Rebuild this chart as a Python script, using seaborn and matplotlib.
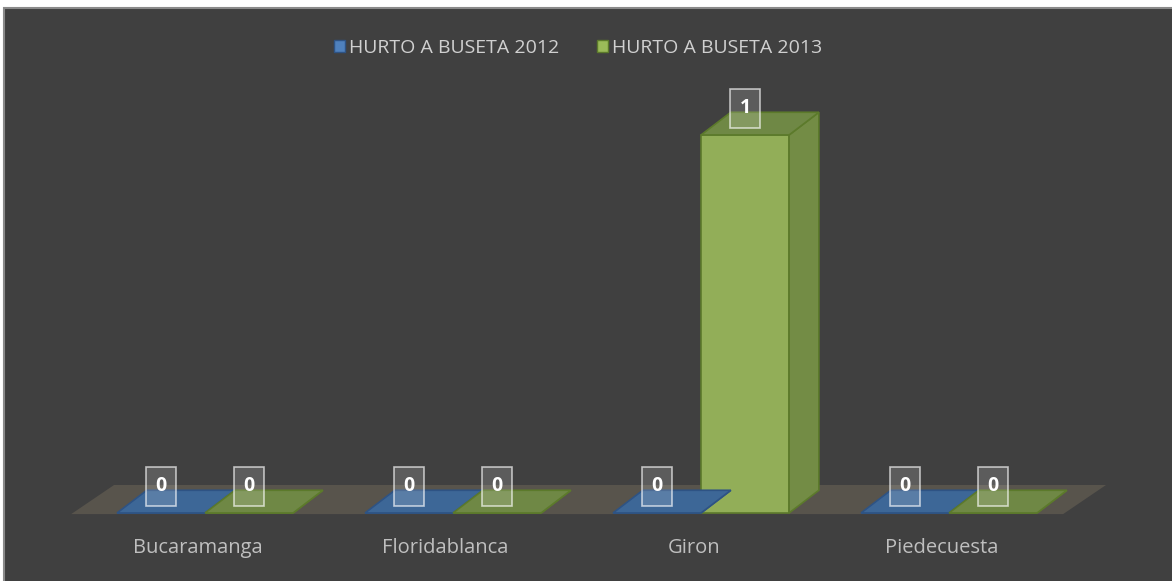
import numpy as np
import pandas as pd
import seaborn as sns
import matplotlib.pyplot as plt
from matplotlib.patches import Polygon, Patch, Rectangle

municipios = ["Bucaramanga", "Floridablanca", "Giron", "Piedecuesta"]
hurto_2012 = [0, 0, 0, 0]
hurto_2013 = [0, 0, 1, 0]
series = ["HURTO A BUSETA 2012", "HURTO A BUSETA 2013"]

df = pd.DataFrame({
    "municipio": municipios * 2,
    "casos": hurto_2012 + hurto_2013,
    "serie": [series[0]] * 4 + [series[1]] * 4,
})

bg = "#404040"
front = ["#4a78ae", "#92ae58"]
top = ["#3d6797", "#6f8845"]
side = ["#3a5f8a", "#738c45"]
edge = ["#2e5384", "#5c7a2b"]
legend_col = ["#4f81bd", "#9bbb59"]

sns.set_style("dark")
plt.rcParams["font.family"] = ["Open Sans", "DejaVu Sans"]

fig = plt.figure(figsize=(11.72, 5.81), dpi=100)
fig.patch.set_facecolor("white")
ax = fig.add_axes([0, 0, 1, 1])
ax.set_facecolor("none")
fig.patches.append(Rectangle((4 / 1172, -0.05), 1.1, 1.05 - 8 / 581, transform=fig.transFigure,
                             facecolor=bg, edgecolor="#8a8a8a", lw=1.5, zorder=-10))

sns.barplot(data=df, x="municipio", y="casos", hue="serie", palette=front,
            width=0.71, ax=ax, legend=False, zorder=3, saturation=1)

ax.set_xlim(-0.827, 3.899)
ax.set_ylim(-0.18, 1.357)
for s in ax.spines.values():
    s.set_visible(False)
ax.set_xticks([])
ax.set_yticks([])
ax.set_xlabel("")
ax.set_ylabel("")
ax.grid(False)

# floor
n = len(municipios)
fdx, fdy = 0.173, 0.077
ax.add_patch(Polygon([(-0.54, -0.003), (n - 0.54, -0.003), (n - 0.54 + fdx, fdy - 0.003),
                      (-0.54 + fdx, fdy - 0.003)], closed=True, fc="#58544c", ec="none", zorder=1))

# 3d faces
bdx, bdy = 0.12, 0.06
for k, cont in enumerate(ax.containers):
    for p in cont.patches:
        x0 = p.get_x()
        w = p.get_width()
        h = p.get_height()
        p.set_edgecolor(edge[k])
        p.set_linewidth(1.2)
        ax.add_patch(Polygon([(x0 + w, 0), (x0 + w + bdx, bdy), (x0 + w + bdx, h + bdy), (x0 + w, h)],
                             closed=True, fc=side[k], ec=edge[k], lw=1.2, zorder=3))
        ax.add_patch(Polygon([(x0, h), (x0 + w, h), (x0 + w + bdx, h + bdy), (x0 + bdx, h + bdy)],
                             closed=True, fc=top[k], ec=edge[k], lw=1.2, zorder=3))
    ax.bar_label(cont, padding=12, color="white", fontweight="bold", fontsize=14, zorder=6,
                 bbox=dict(boxstyle="square,pad=0.5", fc=(1, 1, 1, 0.15), ec=(1, 1, 1, 0.65), lw=1.2))

for i, m in enumerate(municipios):
    ax.text(i - 0.03, -0.093, m, ha="center", va="center", color="#bfbfbf", fontsize=14.5)

handles = [Patch(fc=legend_col[k], ec=edge[k], lw=1) for k in range(2)]
ax.legend(handles, series, loc="center", bbox_to_anchor=(0.5 - 8 / 1172, 1 - 48 / 581), ncol=2,
          frameon=False, labelcolor="#d0d0d0", fontsize=14, handlelength=0.6, handleheight=0.6,
          handletextpad=0.2, columnspacing=1.9)

fig.savefig("out.png", dpi=100)
